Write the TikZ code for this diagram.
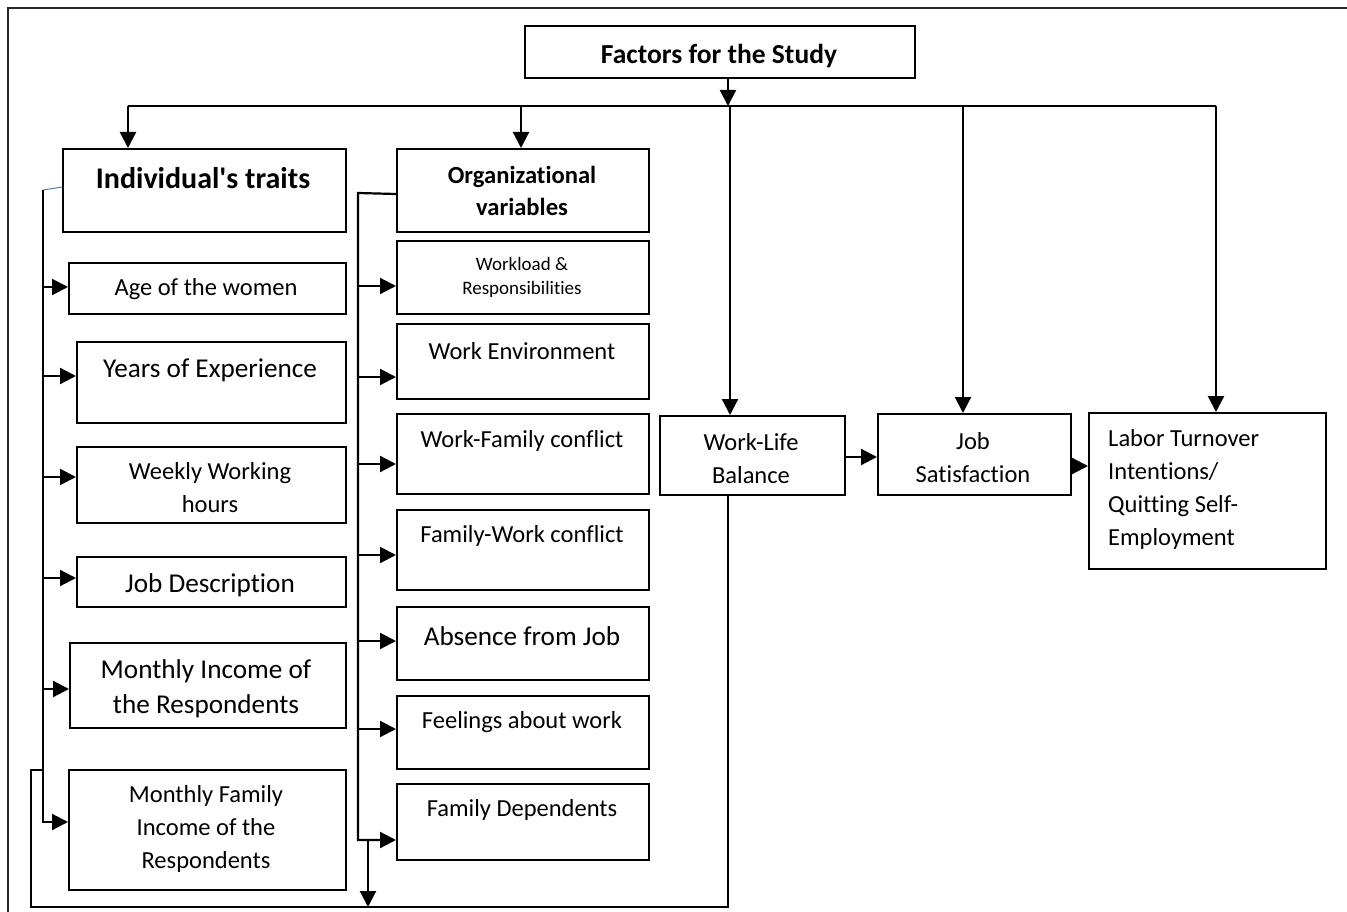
\documentclass[tikz,border=0pt]{standalone}
\usepackage{fontspec}
\setmainfont{Carlito}[Ligatures={NoCommon}]
\usetikzlibrary{arrows.meta}
\definecolor{tickblue}{HTML}{4A7EBB}

\tikzset{
  box/.style={draw, line width=2pt, anchor=north west, inner sep=0pt},
  line/.style={line width=2.2pt},
  arr/.style={line width=2.2pt, -{Triangle[length=16pt,width=16pt]}},
  txt/.style={align=center, inner sep=0pt, font=\fontsize{24.5}{33}\selectfont},
  txtl/.style={txt, font=\fontsize{27.2}{35}\selectfont},
  txts/.style={txt, font=\fontsize{19}{24}\selectfont},
  txtb/.style={txt, font=\bfseries\fontsize{24.6}{32}\selectfont},
}

\begin{document}
\begin{tikzpicture}[x=1pt,y=-1pt]
\useasboundingbox (0,0) rectangle (1347,912);
\draw[line width=2.5pt, draw=black!85] (8,912) -- (8,8) -- (1347,8);

% boxes
\node[box, minimum width=390pt, minimum height=52pt] (title) at (524,25) {};
\node[box, minimum width=283pt, minimum height=83pt] (ind) at (62,148) {};
\node[box, minimum width=252pt, minimum height=83pt] (org) at (396,148) {};
\node[box, minimum width=277pt, minimum height=51pt] (age) at (68,262) {};
\node[box, minimum width=269pt, minimum height=81pt] (yrs) at (76,341) {};
\node[box, minimum width=269pt, minimum height=76pt] (week) at (76,446) {};
\node[box, minimum width=269pt, minimum height=50pt] (job) at (76,556) {};
\node[box, minimum width=276pt, minimum height=85pt] (minc) at (69,642) {};
\node[box, minimum width=277pt, minimum height=120pt] (mfam) at (68,769) {};
\node[box, minimum width=252pt, minimum height=73pt] (work) at (396,240) {};
\node[box, minimum width=252pt, minimum height=75pt] (env) at (396,323) {};
\node[box, minimum width=252pt, minimum height=80pt] (wfc) at (396,413) {};
\node[box, minimum width=252pt, minimum height=80pt] (fwc) at (396,509) {};
\node[box, minimum width=252pt, minimum height=73pt] (abs) at (396,606) {};
\node[box, minimum width=252pt, minimum height=73pt] (feel) at (396,695) {};
\node[box, minimum width=252pt, minimum height=76pt] (dep) at (396,783) {};
\node[box, minimum width=185pt, minimum height=79pt] (wlb) at (659,415) {};
\node[box, minimum width=193pt, minimum height=81pt] (js) at (877,413) {};
\node[box, minimum width=237pt, minimum height=156pt] (lab) at (1088,412) {};

% texts
\node[txtb, font=\bfseries\fontsize{27.5}{32}\selectfont] (titleT) at (719,56) {Factors for the Study};
\node[txtb, font=\bfseries\fontsize{30}{34}\selectfont] (indT) at (203,178) {Individual\textquotesingle s traits};
\node[txtb] (orgT) at (522,191) {Organizational\\variables};
\node[txt] (ageT) at (206,289) {Age of the women};
\node[txtl] (yrsT) at (210,370) {Years of Experience};
\node[txt] (weekT) at (210,488) {Weekly Working\\hours};
\node[txtl] (jobT) at (210,585) {Job Description};
\node[txtl] (mincT) at (206,689) {Monthly Income of\\the Respondents};
\node[txt] (mfamT) at (206,829) {Monthly Family\\Income of the\\Respondents};
\node[txts] (workT) at (522,277) {Workload \&\\Responsibilities};
\node[txt] (envT) at (522,351) {Work Environment};
\node[txt] (wfcT) at (522,441) {Work-Family conflict};
\node[txt] (fwcT) at (522,536) {Family-Work conflict};
\node[txtl] (absT) at (522,636) {Absence from Job};
\node[txt] (feelT) at (522,722) {Feelings about work};
\node[txt] (depT) at (522,810) {Family Dependents};
\node[txt] (wlbT) at (751,459) {Work-Life\\Balance};
\node[txt] (jsT) at (973,458) {Job\\Satisfaction};
\node[txt, align=left, anchor=west] (labT) at (1108,489) {Labor Turnover\\Intentions/\\Quitting Self-\\Employment};

% top bus
\coordinate (bL) at (128,106);
\coordinate (bO) at (521,106);
\coordinate (bW) at (730,106);
\coordinate (bJ) at (963,106);
\coordinate (bR) at (1216,106);
\draw[arr] ([xshift=8pt]title.south) -- ([xshift=8pt]title.south |- bL);
\draw[line] (bL) -- (bR);
\draw[arr] (bL) -- (bL |- ind.north);
\draw[arr] (bO) -- (bO |- org.north);
\draw[arr] (bW) -- (bW |- wlb.north);
\draw[arr] (bJ) -- (bJ |- js.north);
\draw[arr] (bR) -- (bR |- lab.north);

% individual's traits branch
\coordinate (itop) at (43,190);
\draw[tickblue, line width=1pt] (itop) -- ([yshift=3.5pt]ind.west);
\draw[arr] (itop) |- ([yshift=8pt]mfam.west);
\draw[arr] ([yshift=1.5pt]age.west -| itop) -- ([yshift=1.5pt]age.west);
\draw[arr] ([yshift=6.5pt]yrs.west -| itop) -- ([yshift=6.5pt]yrs.west);
\draw[arr] ([yshift=8pt]week.west -| itop) -- ([yshift=8pt]week.west);
\draw[arr] ([yshift=4pt]job.west -| itop) -- ([yshift=4pt]job.west);
\draw[arr] ([yshift=-3.5pt]minc.west -| itop) -- ([yshift=-3.5pt]minc.west);

% organizational branch
\coordinate (otop) at (358,193);
\draw[arr] ([yshift=-3.5pt]org.west) -- (otop) |- ([yshift=-18pt]dep.west);
\draw[arr] ([yshift=-8.5pt]work.west -| otop) -- ([yshift=-8.5pt]work.west);
\draw[arr] ([yshift=-15.5pt]env.west -| otop) -- ([yshift=-15.5pt]env.west);
\draw[arr] ([yshift=-10pt]wfc.west -| otop) -- ([yshift=-10pt]wfc.west);
\draw[arr] ([yshift=-5pt]fwc.west -| otop) -- ([yshift=-5pt]fwc.west);
\draw[arr] ([yshift=2.5pt]abs.west -| otop) -- ([yshift=2.5pt]abs.west);
\draw[arr] ([yshift=3.5pt]feel.west -| otop) -- ([yshift=3.5pt]feel.west);

% outcome chain
\draw[arr] ([yshift=-1.5pt]wlb.east) -- ([yshift=-1.5pt]wlb.east -| js.west);
\draw[arr] ([yshift=-11.5pt]js.east) -- ([yshift=-11.5pt]js.east -| lab.west);

% feedback loop
\coordinate (odrop) at (368,839);
\coordinate (obot) at (368,907);
\coordinate (lbl) at (31,907);
\coordinate (ltop) at (43,770);
\draw[line] ([xshift=-24.5pt]wlb.south) |- (lbl) |- (ltop);
\draw[arr] (odrop) -- (obot);
\end{tikzpicture}
\end{document}
